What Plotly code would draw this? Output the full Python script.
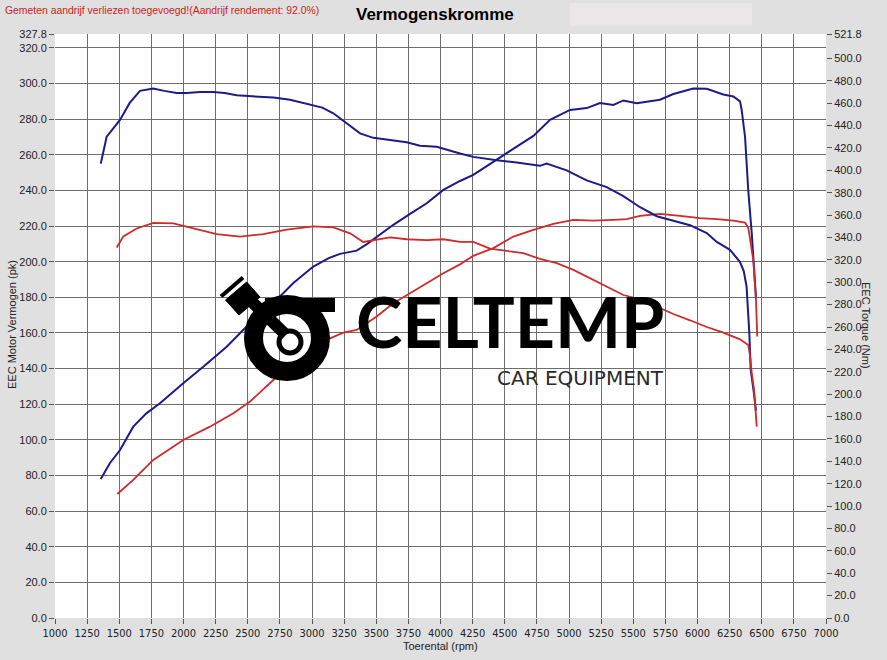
import plotly.graph_objects as go

# ---------------- data ----------------
x_ticks = list(range(1000, 7001, 250))
left_ticks = [i * 20 for i in range(17)] + [327.8]
right_ticks = [i * 20 for i in range(26)] + [521.8]

blue_power_rpm = [1356, 1428, 1506, 1609, 1713, 1817, 1998, 2154, 2336, 2491, 2699, 2855, 3010, 3130,
                  3218, 3348, 3430, 3503, 3633, 3763, 3893, 4022, 4152, 4255, 4437, 4593, 4723, 4852,
                  5008, 5138, 5241, 5345, 5423, 5527, 5708, 5812, 5967, 6072, 6201, 6279, 6331, 6344,
                  6370, 6395, 6422, 6440, 6455]
blue_power_pk = [78, 87, 94.3, 107.4, 115, 120.5, 131.8, 141, 152.3, 163.6, 176.7, 188, 197.3, 202,
                 204.4, 206.2, 210, 214, 220.7, 226.8, 232.8, 240.3, 245.3, 248.7, 257.5, 264.6, 270.6, 279.6,
                 285.2, 286.2, 289, 288, 290.5, 289, 290.9, 294.1, 297.2, 297, 293.8, 292.7, 290, 285,
                 270, 240, 216, 197, 180]

blue_torque_rpm = [1356, 1402, 1506, 1580, 1661, 1765, 1850, 1947, 2025, 2130, 2232, 2320, 2414, 2595,
                   2700, 2829, 2984, 3080, 3166, 3270, 3374, 3477, 3607, 3737, 3840, 3970, 4152, 4255,
                   4437, 4593, 4774, 4826, 4982, 5138, 5293, 5423, 5553, 5683, 5812, 5942, 6072, 6150,
                   6253, 6331, 6360, 6382, 6403, 6414, 6440, 6455]
blue_torque_nm = [406, 430, 445, 460, 471, 473, 471, 469, 469, 470, 470, 469, 467, 466,
                  465, 463, 459, 456, 451, 442, 433, 429, 427, 425, 422, 421, 415, 412,
                  409, 407, 404, 406, 400, 391, 385, 377, 367, 359, 355, 351, 344, 336,
                  329, 318, 310, 296, 255, 222, 200, 185]

red_power_rpm = [1485, 1609, 1765, 1998, 2206, 2388, 2518, 2699, 2855, 2984, 3114, 3244, 3348, 3503,
                 3633, 3763, 3893, 4022, 4152, 4255, 4411, 4567, 4723, 4878, 5034, 5190, 5345, 5449,
                 5553, 5708, 5864, 6019, 6150, 6279, 6370, 6395, 6434, 6455, 6465]
red_power_pk = [69.6, 77.5, 88.7, 99.9, 107.4, 114.9, 121.5, 133.6, 143, 148.6, 156.1, 160.2, 161.7, 169.2,
                176.7, 182.3, 187.9, 193.5, 198.5, 203.3, 207.6, 214.1, 217.9, 221.2, 223.5, 223.1, 223.5, 223.9,
                225.7, 226.8, 225.7, 224.4, 223.9, 223.1, 222, 219, 201, 179, 158]

red_torque_rpm = [1480, 1532, 1636, 1765, 1921, 2076, 2258, 2440, 2621, 2803, 3010, 3166, 3296, 3399,
                  3503, 3607, 3737, 3893, 4022, 4152, 4255, 4385, 4515, 4644, 4774, 4904, 5034, 5164,
                  5293, 5423, 5553, 5683, 5812, 5942, 6072, 6201, 6331, 6395, 6409, 6422, 6440, 6461]
red_torque_nm = [331, 341, 348, 353, 352.6, 348, 343, 340.7, 343, 347, 350, 349, 343.7, 336,
                 337.7, 340, 338.4, 337.7, 338.4, 336, 336, 330, 328, 326, 320.8, 317, 311, 303.5,
                 295.5, 288.6, 284.8, 278, 271.6, 266, 260, 255, 249, 244, 234, 219, 204, 171]

# ---------------- figure ----------------
W, H = 887, 660
L, R, T, B = 55, 61, 34, 42
BLUE = "#1b1b8a"
RED = "#d02a2a"
FONT = "Liberation Sans, Arial, sans-serif"


def px(xp):
    return (xp - L) / (W - L - R)


def py(yp):
    return (H - B - yp) / (H - T - B)


fig = go.Figure()
fig.add_trace(go.Scatter(x=blue_power_rpm, y=blue_power_pk, mode="lines",
                         line=dict(color=BLUE, width=2), yaxis="y", showlegend=False))
fig.add_trace(go.Scatter(x=blue_torque_rpm, y=blue_torque_nm, mode="lines",
                         line=dict(color=BLUE, width=2), yaxis="y2", showlegend=False))
fig.add_trace(go.Scatter(x=red_power_rpm, y=red_power_pk, mode="lines",
                         line=dict(color=RED, width=1.8), yaxis="y", showlegend=False))
fig.add_trace(go.Scatter(x=red_torque_rpm, y=red_torque_nm, mode="lines",
                         line=dict(color=RED, width=1.8), yaxis="y2", showlegend=False))

RC_X, RC_Y, RC_R = 287, 338, 33.5
shapes = [
    # light header box
    dict(type="rect", xref="paper", yref="paper", x0=px(570), x1=px(752), y0=py(26), y1=py(3),
         fillcolor="#ebe6e8", line=dict(width=0), layer="below"),
    # logo ring
    dict(type="circle", xref="paper", yref="paper", x0=px(RC_X - RC_R), x1=px(RC_X + RC_R),
         y0=py(RC_Y + RC_R), y1=py(RC_Y - RC_R), line=dict(color="black", width=19)),
    # logo top bar
    dict(type="rect", xref="paper", yref="paper", x0=px(265), x1=px(335), y0=py(312), y1=py(298),
         fillcolor="black", line=dict(width=0)),
    # piston rod
    dict(type="line", xref="paper", yref="paper", x0=px(248), y0=py(298), x1=px(286), y1=py(335),
         line=dict(color="black", width=12)),
    # piston head
    dict(type="path", xref="paper", yref="paper",
         path="M {} {} L {} {} L {} {} L {} {} Z".format(px(225.5), py(300), px(246.7), py(282),
                                                         px(260), py(297), px(239), py(315)),
         fillcolor="black", line=dict(color="black", width=1)),
    # piston ring band
    dict(type="line", xref="paper", yref="paper", x0=px(221), y0=py(296.5), x1=px(243), y1=py(277.5),
         line=dict(color="black", width=4)),
    # crank end
    dict(type="circle", xref="paper", yref="paper", x0=px(279), x1=px(301), y0=py(353), y1=py(331),
         line=dict(color="black", width=5)),
    dict(type="circle", xref="paper", yref="paper", x0=px(285), x1=px(295), y0=py(347), y1=py(337),
         fillcolor="white", line=dict(color="white", width=1)),
]

annotations = [
    dict(text="Gemeten aandrijf verliezen toegevoegd!(Aandrijf rendement: 92.0%)", xref="paper",
         yref="paper", x=px(3), y=py(10), xanchor="left", yanchor="middle", showarrow=False,
         font=dict(family=FONT, size=10.4, color="#cc2222")),
    dict(text="<b>Vermogenskromme</b>", xref="paper", yref="paper", x=px(435), y=py(14),
         xanchor="center", yanchor="middle", showarrow=False,
         font=dict(family=FONT, size=17, color="black")),
    dict(text="EEC Motor Vermogen (pk)", xref="paper", yref="paper", x=px(12), y=py(325),
         xanchor="center", yanchor="middle", textangle=-90, showarrow=False,
         font=dict(family=FONT, size=11, color="#222")),
    dict(text="EEC Torque (Nm)", xref="paper", yref="paper", x=px(866), y=py(325),
         xanchor="center", yanchor="middle", textangle=90, showarrow=False,
         font=dict(family=FONT, size=11, color="#222")),
    dict(text="Toerental (rpm)", xref="paper", yref="paper", x=px(440), y=py(646),
         xanchor="center", yanchor="middle", showarrow=False,
         font=dict(family=FONT, size=11, color="#222")),
    dict(text="<b>CELTEMP</b>", xref="paper", yref="paper", x=px(665), y=py(364),
         xanchor="right", yanchor="bottom", borderpad=0, showarrow=False,
         font=dict(family="Lato, Roboto, sans-serif", size=70, color="black")),
    dict(text="CAR EQUIPMENT", xref="paper", yref="paper", x=px(665), y=py(365),
         xanchor="right", yanchor="top", borderpad=0, showarrow=False,
         font=dict(family="DejaVu Sans, sans-serif", size=20, color="#2a2a2a")),
]

fig.update_layout(
    width=W, height=H,
    margin=dict(l=L, r=R, t=T, b=B, pad=0),
    paper_bgcolor="#e0e0e0",
    plot_bgcolor="white",
    shapes=shapes,
    annotations=annotations,
    xaxis=dict(range=[1000, 7000], tickvals=x_ticks, ticktext=[str(v) for v in x_ticks],
               showgrid=True, gridcolor="#6e6e6e", gridwidth=1, zeroline=False,
               ticks="outside", ticklen=5, tickcolor="#555", showline=False,
               tickfont=dict(family="Liberation Sans Narrow, Arial Narrow, DejaVu Sans Condensed, Liberation Sans",
                             size=11, color="#222")),
    yaxis=dict(range=[0, 327.8], tickvals=left_ticks, ticktext=["%.1f" % v for v in left_ticks],
               showgrid=True, gridcolor="#6e6e6e", gridwidth=1, zeroline=False,
               ticks="outside", ticklen=5, tickcolor="#555", showline=False,
               tickfont=dict(family=FONT, size=11, color="#222")),
    yaxis2=dict(range=[0, 521.8], tickvals=right_ticks, ticktext=["%.1f" % v for v in right_ticks],
                overlaying="y", side="right", showgrid=False, zeroline=False,
                ticks="outside", ticklen=5, tickcolor="#555", showline=False,
                tickfont=dict(family=FONT, size=11, color="#222")),
)

fig.write_html("out.html", config={"displayModeBar": False},
               post_script="document.body.style.margin='0';document.body.style.background='#e0e0e0';")
